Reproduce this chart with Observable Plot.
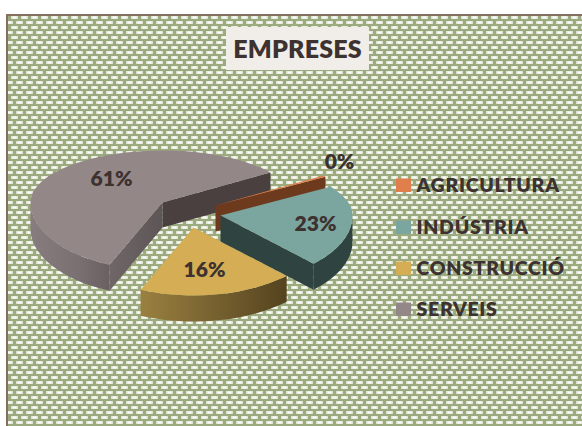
<!DOCTYPE html>
<html><head><meta charset="utf-8">
<script src="https://cdn.jsdelivr.net/npm/d3@7"></script>
<script src="https://cdn.jsdelivr.net/npm/@observablehq/plot@0.6"></script>
<style>
html,body{margin:0;padding:0;background:#fff;overflow:hidden}
svg{display:block}
.ttl text{letter-spacing:.2px}
.leg text{letter-spacing:.7px}
</style></head><body>
<script>
const categories = ["AGRICULTURA","INDÚSTRIA","CONSTRUCCIÓ","SERVEIS"];
const shares = [0.4,23,16,61];
const shareLabels = ["0%","23%","16%","61%"];
const topColors = ["#e07f4b","#7ba59f","#d4ad54","#948788"];
const sideColors = ["#6e3a1e","#2f4340","url(#gc)","url(#gs)"];
const cutColors = ["#6e3a1e","#2f4340","#54431f","#4a4040"];
const chartTitle = "EMPRESES";

// layout
const W = 582, H = 426;
const rx = 132, ryBack = 52, ryFront = 68, depth = 26, startDeg = -32;
const warpFront = 7, warpBack = -3.5; // 3-D perspective stretch of the front of the pie
const apexes = [[215,205],[220,215],[193,227],[162,202]];
const labelAt = [[339,162],[315,224],[204,270],[111,179]];
const legendY = [185,227,268,309];
const total = d3.sum(shares);

const rad = a => a*Math.PI/180;
const rim = (c,a,dz=0) => {
  const front = Math.sin(rad(a))>0;
  const t = rad(a - (front?warpFront:warpBack)*Math.sin(rad(2*a)));
  return {x:c[0]+rx*Math.cos(t), y:c[1]+Math.sin(t)*(front?ryFront:ryBack)+dz};
};
let acc = startDeg;
const wedges = categories.map((cat,i)=>{
  const a0 = acc, a1 = acc+shares[i]/total*360; acc = a1;
  return {cat,i,a0,a1,c:apexes[i]};
});
const arc = (w,from,to,dz=0)=>{
  const n = Math.max(2,Math.ceil(Math.abs(to-from)/3));
  return d3.range(n+1).map(k=>rim(w.c,from+(to-from)*k/n,dz));
};
const poly = (pts,fill)=>Plot.line(pts,{x:"x",y:"y",fill,stroke:"none",curve:"linear-closed"});
const pt = (c,dz=0)=>({x:c[0],y:c[1]+dz});
const pieMarks = w=>{
  const out = [];
  const endA = rim(w.c,w.a1), endD = rim(w.c,w.a1,depth);
  const begA = rim(w.c,w.a0), begD = rim(w.c,w.a0,depth);
  if (w.i===3) {
    out.push(poly([pt(w.c),endA,rim(w.c,w.a1,depth-1),pt(w.c,depth-1)],cutColors[3]));
    out.push(poly([pt(w.c),begA,begD,pt(w.c,depth-1)],"url(#gk)"));
  } else if (w.i===0 || w.i===1) {
    out.push(poly([pt(w.c),endA,endD,pt(w.c,depth)],cutColors[w.i]));
  }
  const from = Math.max(w.a0,0), to = Math.min(w.a1,180);
  if (to>from) out.push(poly([...arc(w,from,to),...arc(w,to,from,depth)],sideColors[w.i]));
  const top = [pt(w.c),...arc(w,w.a0,w.a1)].map(p=>({...p,cat:w.cat}));
  out.push(Plot.line(top,{x:"x",y:"y",fill:"cat",stroke:"none",curve:"linear-closed"}));
  return out;
};
const order = [3,0,2,1];
const labelRows = categories.map((cat,i)=>({cat,label:shareLabels[i],x:labelAt[i][0],y:labelAt[i][1]}));
const legendRows = categories.map((cat,i)=>({cat,y:legendY[i]}));

const plot = Plot.plot({
  width:W,height:H,margin:0,
  x:{domain:[0,W],range:[0,W],axis:null},
  y:{domain:[0,H],range:[0,H],axis:null},
  color:{domain:categories,range:topColors},
  style:{background:"#fff",fontFamily:"Lato,'Open Sans',sans-serif"},
  marks:[
    Plot.rect([0],{x1:()=>7,x2:()=>W+4,y1:()=>15,y2:()=>H+4,fill:"url(#weave)",stroke:"#85705f",strokeWidth:2}),
    Plot.rect([0],{x1:()=>226,x2:()=>369,y1:()=>27,y2:()=>70,fill:"#f1eeea"}),
    Plot.text([chartTitle],{text:d=>d,x:()=>297,y:()=>49,fontSize:25,fontWeight:800,fill:"#3d3230",className:"ttl"}),
    ...order.flatMap(i=>pieMarks(wedges[i])),
    Plot.text(labelRows,{x:"x",y:"y",text:"label",fontSize:21,fontWeight:800,fill:"#3d3230"}),
    Plot.rect(legendRows,{x1:()=>396,x2:()=>411,y1:d=>d.y-6.5,y2:d=>d.y+7,fill:"cat"}),
    Plot.text(legendRows,{x:()=>416,y:"y",text:"cat",textAnchor:"start",fontSize:19.5,fontWeight:800,fill:"#3d3230",className:"leg"})
  ]
});
plot.insertAdjacentHTML("afterbegin",`<defs>
<pattern id="weave" patternUnits="userSpaceOnUse" width="10" height="10" patternTransform="translate(0 5)">
<rect width="10" height="10" fill="#9cab7f"/>
<rect x="1" y="1" width="7" height="3" fill="#dfe4d2"/><rect x="2.5" y="1.5" width="4" height="2" fill="#fbfbf8"/>
<rect x="6" y="6" width="7" height="3" fill="#dfe4d2"/><rect x="7.5" y="6.5" width="4" height="2" fill="#fbfbf8"/>
<rect x="-4" y="6" width="7" height="3" fill="#dfe4d2"/><rect x="-2.5" y="6.5" width="4" height="2" fill="#fbfbf8"/>
</pattern>
<linearGradient id="gc"><stop offset="0" stop-color="#9a8040"/><stop offset="1" stop-color="#54431f"/></linearGradient>
<linearGradient id="gs"><stop offset="0" stop-color="#877c7e"/><stop offset=".6" stop-color="#7a6f71"/><stop offset="1" stop-color="#6a6062"/></linearGradient>
<linearGradient id="gk" x1="0" x2="1"><stop offset="0" stop-color="#6f6668"/><stop offset="1" stop-color="#5e5557"/></linearGradient>
</defs>`);
document.body.appendChild(plot);
</script>
</body></html>
